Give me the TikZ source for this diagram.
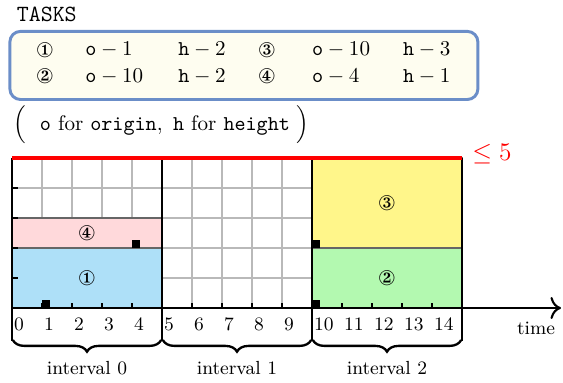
\documentclass[tikz,border=0pt]{standalone}
\usepackage{amsmath,amssymb}
\usepackage{pifont}
\usepackage{tikz}
\usetikzlibrary{arrows.meta,positioning,calc,decorations.pathreplacing}
\definecolor{boxln}{HTML}{6B8EC8}
\definecolor{boxbg}{HTML}{FEFDF0}
\definecolor{tblue}{HTML}{AEE0F8}
\definecolor{tpink}{HTML}{FFD9DB}
\definecolor{tgreen}{HTML}{B3F9B0}
\definecolor{tyell}{HTML}{FFF68A}
\tikzset{
  taskbox/.style={draw=boxln,line width=1.4pt,rounded corners=5pt,fill=boxbg,inner sep=0pt},
  cell/.style   ={anchor=west,inner sep=0pt},
  circ/.style   ={inner sep=0pt},
  blk/.style    ={draw=black!60,line width=0.6pt},
  org/.style    ={fill=black},
  sep/.style    ={line width=1pt},
  limline/.style={draw=red,line width=2.3pt},
  tck/.style    ={line width=0.8pt},
  brc/.style    ={decorate,decoration={brace,mirror,amplitude=5.5pt},line width=1.1pt},
  num/.style    ={anchor=north west,inner sep=0pt,font=\small},
  lbl/.style    ={font=\small},
}

\begin{document}
\begin{tikzpicture}[x=0.5cm,y=0.5cm]
  \useasboundingbox (-0.4,-2.467) rectangle (18.367,10.267);
  % task list
  \node[cell,font=\fontsize{11}{13}\selectfont] (title) at (0.15,9.8) {\texttt{TASKS}};
  \node[taskbox,minimum width=7.8cm,minimum height=1.135cm] (box) at (7.73,8.085) {};
  \foreach \y/\r/\a/\b/\c/\d/\e/\f in {8.6/1/172/1/2/174/10/3,7.73/2/173/10/2/175/4/1}{
    \node[circ] (c\r a) at (1.1,\y) {\ding{\a}};
    \node[cell] (o\r a) at (2.43,\y) {$\texttt{o}-\b$};
    \node[cell] (h\r a) at (5.53,\y) {$\texttt{h}-\c$};
    \node[circ] (c\r b) at (8.5,\y) {\ding{\d}};
    \node[cell] (o\r b) at (9.99,\y) {$\texttt{o}-\e$};
    \node[cell] (h\r b) at (13.02,\y) {$\texttt{h}-\f$};
  }
  \node[cell] (key) at (0.03,6.1)
    {$\Big(\ \ \texttt{o}\ \text{for}\ \texttt{origin},\ \texttt{h}\ \text{for}\ \texttt{height}\ \Big)$};
  % grid and tasks
  \draw[gray!55,line width=0.5pt,step=0.5cm] (0,0) grid (15,5);
  \draw[blk,fill=tblue]  (0,0) rectangle (5,2);
  \draw[blk,fill=tpink]  (0,2) rectangle (5,3);
  \draw[blk,fill=tgreen] (10,0) rectangle (15,2);
  \draw[blk,fill=tyell]  (10,2) rectangle (15,5);
  \node[circ] (t1) at (2.5,1)   {\ding{172}};
  \node[circ] (t4) at (2.5,2.5) {\ding{175}};
  \node[circ] (t2) at (12.5,1)  {\ding{173}};
  \node[circ] (t3) at (12.5,3.5){\ding{174}};
  \foreach \x/\y in {1/0,4/2,10/0,10/2}
    \fill[org] (\x,\y) rectangle ++(0.27,0.27);
  % axes
  \foreach \x in {1,...,14} \draw[tck] (\x,0) -- (\x,0.15);
  \foreach \y in {1,...,4} \draw[tck] (0,\y) -- (0.2,\y);
  \foreach \x in {0,5,10,15} \draw[sep] (\x,5) -- (\x,-1.1);
  \coordinate (tend) at (18.3,0);
  \draw[sep,-{To[length=5pt]}] (0,0) -- (tend);
  \node[lbl] (tlbl) at (17.47,-0.67) {time};
  \foreach \x in {0,...,14} \node[num] (n\x) at (\x+0.06,-0.3) {\x};
  \draw[limline] (0,5) -- (15,5);
  \node[cell,text=red] (lim) at (15.33,5.12) {\large $\leq 5$};
  % intervals
  \foreach \i in {0,1,2}{
    \draw[brc] (5*\i+0.03,-1.07) -- (5*\i+4.97,-1.07);
    \node[lbl] (iv\i) at (5*\i+2.5,-2.0) {interval \i};
  }
\end{tikzpicture}
\end{document}
